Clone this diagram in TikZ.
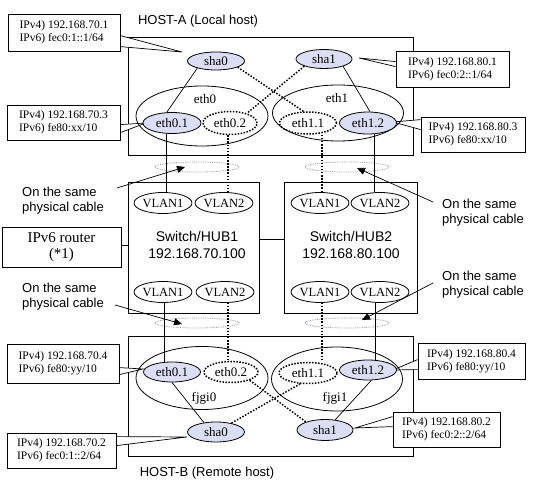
\documentclass[tikz,border=0pt]{standalone}
\usepackage{fontspec}
\setmainfont{Liberation Serif}
\newfontfamily\sansf{Liberation Sans}
\usetikzlibrary{shapes.geometric,arrows.meta,calc}
\definecolor{ifill}{RGB}{220,222,245}
\definecolor{ringc}{RGB}{150,150,175}
\begin{document}
\begin{tikzpicture}[x=1pt,y=-1pt,
  hostbox/.style={draw, line width=0.8pt, inner sep=0pt},
  ifc/.style={ellipse, draw, fill=ifill, inner sep=0pt, line width=0.8pt, font=\fontsize{13}{13}\selectfont},
  ifcd/.style={ellipse, draw, line width=1.5pt, dash pattern=on 1.5pt off 1.5pt, inner sep=0pt, font=\fontsize{13}{13}\selectfont},
  grp/.style={ellipse, draw, inner sep=0pt, line width=0.8pt},
  vlan/.style={ellipse, draw, inner sep=0pt, line width=0.8pt, minimum width=49pt, minimum height=21pt, font=\fontsize{12.5}{12.5}\selectfont},
  callbox/.style={draw, fill=white, inner sep=0pt, line width=0.8pt, align=left, font=\fontsize{11.5}{13}\selectfont},
  wedge/.style={draw, fill=white, line width=0.7pt},
  conn/.style={line width=0.7pt},
  dotl/.style={line width=1.5pt, dash pattern=on 1.5pt off 1.6pt},
  ring/.style={ellipse, draw=ringc, densely dotted, line width=0.8pt, minimum width=84pt, minimum height=10pt, inner sep=0pt},
  sanslbl/.style={font=\sansf\fontsize{13}{15}\selectfont, align=left, inner sep=0pt},
  hubtxt/.style={font=\sansf\fontsize{14}{14}\selectfont, inner sep=0pt},
  grplbl/.style={font=\fontsize{13}{13}\selectfont, inner sep=0pt},
  arr/.style={line width=0.7pt, -{Triangle[length=8pt,width=7pt]}}
]
\useasboundingbox (0,0) rectangle (539,494);

% hosts and switches
\node[hostbox, minimum width=285pt, minimum height=118pt] (hostA) at (270.5,96) {};
\node[hostbox, minimum width=285pt, minimum height=120pt] (hostB) at (270.5,396) {};
\node[hostbox, minimum width=131pt, minimum height=131pt] (hub1) at (193.5,247.5) {};
\node[hostbox, minimum width=133pt, minimum height=131pt] (hub2) at (350.5,247.5) {};
\node[hostbox, minimum width=119pt, minimum height=40pt, align=center, font=\fontsize{15}{16}\selectfont] (router) at (61.5,247) {IPv6 router\\(*1)};
\draw[conn] (router.east |- 0,245) coordinate (re) -- (re -| hub1.west);
\draw[conn] (hub1.east |- 0,239) coordinate (h1e) -- (h1e -| hub2.west);

\node[font=\sansf\fontsize{13}{13}\selectfont, inner sep=0pt] (hostAlbl) at (198,21) {HOST-A (Local host)};
\node[font=\sansf\fontsize{13}{13}\selectfont, inner sep=0pt] (hostBlbl) at (207,473) {HOST-B (Remote host)};

\node[hubtxt] (hub1a) at (197,236) {Switch/HUB1};
\node[hubtxt] (hub1b) at (197,254) {192.168.70.100};
\node[hubtxt] (hub2a) at (351,236) {Switch/HUB2};
\node[hubtxt] (hub2b) at (351,254) {192.168.80.100};

% callout tips
\coordinate (tA1) at (182,52);
\coordinate (tA2) at (359,58);
\coordinate (tA3) at (146,123);
\coordinate (tA4) at (393,122);
\coordinate (tB1) at (143,369);
\coordinate (tB2) at (187,437);
\coordinate (tB3) at (393,370);
\coordinate (tB4) at (355,428);

% callout boxes (placed first for names), wedges, then redraw boxes
\path node[callbox, minimum width=112pt, minimum height=37pt] (cA1) at (64,32.5) {}
      node[callbox, minimum width=113pt, minimum height=36pt] (cA2) at (452.5,69) {}
      node[callbox, minimum width=113pt, minimum height=35pt] (cA3) at (63.5,122.5) {}
      node[callbox, minimum width=104pt, minimum height=35pt] (cA4) at (473,134.5) {}
      node[callbox, minimum width=112pt, minimum height=39pt] (cB1) at (63,363.5) {}
      node[callbox, minimum width=109pt, minimum height=35pt] (cB2) at (61.5,450.5) {}
      node[callbox, minimum width=107pt, minimum height=36pt] (cB3) at (471.5,361) {}
      node[callbox, minimum width=107pt, minimum height=35pt] (cB4) at (446.5,429.5) {};

\draw[wedge] ($(cA1.north east)+(0,22)$) -- (tA1) -- ($(cA1.north east)+(0,33)$);
\draw[wedge] ($(cA2.north west)+(0,11)$) -- (tA2) -- ($(cA2.north west)+(0,16)$);
\draw[wedge] ($(cA3.north east)+(0,20)$) -- (tA3) -- ($(cA3.north east)+(0,28)$);
\draw[wedge] ($(cA4.north west)+(0,3)$) -- (tA4) -- ($(cA4.north west)+(0,13)$);
\draw[wedge] ($(cB1.north east)+(0,24)$) -- (tB1) -- ($(cB1.north east)+(0,31)$);
\draw[wedge] ($(cB2.north east)+(0,4)$) -- (tB2) -- ($(cB2.north east)+(0,13)$);
\draw[wedge] ($(cB3.north west)+(0,17)$) -- (tB3) -- ($(cB3.north west)+(0,27)$);
\draw[wedge] ($(cB4.north west)+(0,5)$) -- (tB4) -- ($(cB4.north west)+(0,15)$);

\node[callbox, minimum width=112pt, minimum height=37pt] at (cA1) {IPv4) 192.168.70.1\\IPv6) fec0:1::1/64};
\node[callbox, minimum width=113pt, minimum height=36pt] at (cA2) {IPv4) 192.168.80.1\\IPv6) fec0:2::1/64};
\node[callbox, minimum width=113pt, minimum height=35pt] at (cA3) {IPv4) 192.168.70.3\\IPv6) fe80:xx/10};
\node[callbox, minimum width=104pt, minimum height=35pt] at (cA4) {IPv4) 192.168.80.3\\IPv6) fe80:xx/10};
\node[callbox, minimum width=112pt, minimum height=39pt] at (cB1) {IPv4) 192.168.70.4\\IPv6) fe80:yy/10};
\node[callbox, minimum width=109pt, minimum height=35pt] at (cB2) {IPv4) 192.168.70.2\\IPv6) fec0:1::2/64};
\node[callbox, minimum width=107pt, minimum height=36pt] at (cB3) {IPv4) 192.168.80.4\\IPv6) fe80:yy/10};
\node[callbox, minimum width=107pt, minimum height=35pt] at (cB4) {IPv4) 192.168.80.2\\IPv6) fec0:2::2/64};

% HOST-A interfaces
\node[grp, minimum width=132pt, minimum height=60pt] (eth0) at (202,116) {};
\node[grp, minimum width=131pt, minimum height=56pt] (eth1) at (338,113) {};
\node[grplbl] (eth0l) at (205,99) {eth0};
\node[grplbl] (eth1l) at (337,98) {eth1};
\node[ifc, minimum width=57pt, minimum height=18pt] (sha0A) at (216,61) {sha0};
\node[ifc, minimum width=56pt, minimum height=19pt] (sha1A) at (324,59) {sha1};
\node[ifc, minimum width=58pt, minimum height=21pt] (eth01A) at (172,123) {eth0.1};
\node[ifcd, minimum width=54pt, minimum height=23pt] (eth02A) at (230,123) {eth0.2};
\node[ifcd, minimum width=57pt, minimum height=22pt] (eth11A) at (308,123) {eth1.1};
\node[ifc, minimum width=57pt, minimum height=22pt] (eth12A) at (368,123) {eth1.2};

\draw[conn] (sha0A.201) -- (eth01A.116);
\draw[conn] (sha1A.339) -- (eth12A.80);
\draw[dotl] (sha0A.344) -- (eth11A.111);
\draw[dotl] (sha1A.200) -- (eth02A.30);

% HOST-B interfaces
\node[grp, minimum width=132pt, minimum height=63pt] (fjgi0) at (202,378) {};
\node[grp, minimum width=131pt, minimum height=64pt] (fjgi1) at (337,379) {};
\node[grplbl] (fjgi0l) at (204,398) {fjgi0};
\node[grplbl] (fjgi1l) at (335,398) {fjgi1};
\node[ifc, minimum width=57pt, minimum height=20pt] (eth01B) at (172,372) {eth0.1};
\node[ifcd, minimum width=54pt, minimum height=21pt] (eth02B) at (231,372) {eth0.2};
\node[ifcd, minimum width=58pt, minimum height=21pt] (eth11B) at (308,373) {eth1.1};
\node[ifc, minimum width=57pt, minimum height=20pt] (eth12B) at (368,370) {eth1.2};
\node[ifc, minimum width=57pt, minimum height=20pt] (sha0B) at (216,432) {sha0};
\node[ifc, minimum width=56pt, minimum height=21pt] (sha1B) at (325,430) {sha1};

\draw[conn] (eth01B.south) -- (sha0B.142);
\draw[conn] (eth12B.288) -- (sha1B.45);
\draw[dotl] (eth02B.336) -- (sha1B.157);
\draw[dotl] (eth11B.234) -- (sha0B.30);

% VLANs
\node[vlan] (v1a) at (163,203) {VLAN1};
\node[vlan] (v2a) at (224,203) {VLAN2};
\node[vlan] (v1b) at (163,292) {VLAN1};
\node[vlan] (v2b) at (225,292) {VLAN2};
\node[vlan] (v1c) at (320,203) {VLAN1};
\node[vlan] (v2c) at (380,203) {VLAN2};
\node[vlan] (v1d) at (320,292) {VLAN1};
\node[vlan] (v2d) at (380,292) {VLAN2};

% cable rings
\node[ring] (rA1) at (197,167) {};
\node[ring] (rA2) at (347,167) {};
\node[ring] (rB1) at (197,323) {};
\node[ring] (rB2) at (347,323) {};

% vertical links
\coordinate (xa) at (166,0);
\coordinate (xb) at (228,0);
\coordinate (xc) at (322,0);
\coordinate (xd) at (374,0);
\coordinate (xe) at (164,0);
\coordinate (xf) at (375,0);
\draw[conn] (eth01A.south -| xa) -- (v1a.north -| xa);
\draw[dotl] (eth02A.south -| xb) -- (v2a.north -| xb);
\draw[dotl] (eth11A.south -| xc) -- (v1c.north -| xc);
\draw[conn] (eth12A.south -| xd) -- (v2c.north -| xd);
\draw[conn] (v1b.south -| xe) -- (eth01B.north -| xe);
\draw[dotl] (v2b.south -| xb) -- (eth02B.north -| xb);
\draw[dotl] (v1d.south -| xc) -- (eth11B.north -| xc);
\draw[conn] (v2d.south -| xf) -- (eth12B.north -| xf);

% physical cable labels
\node[sanslbl, anchor=west] (L1) at (22,200.5) {On the same\\physical cable};
\node[sanslbl, anchor=west] (L2) at (22,296.5) {On the same\\physical cable};
\node[sanslbl, anchor=west] (L3) at (442,212.5) {On the same\\physical cable};
\node[sanslbl, anchor=west] (L4) at (442,284.5) {On the same\\physical cable};
\coordinate (aL1) at (117,188);
\coordinate (aL2) at (115,305);
\coordinate (aL3) at (433,202);
\coordinate (aL4) at (433,283);
\draw[arr] (aL1) -- ($(rA1.center)+(-12,0)$);
\draw[arr] (aL2) -- ($(rB1.center)+(-15,1)$);
\draw[arr] (aL3) -- ($(rA2.center)+(10,1)$);
\draw[arr] (aL4) -- ($(rB2.center)+(15,-3)$);
\end{tikzpicture}
\end{document}
